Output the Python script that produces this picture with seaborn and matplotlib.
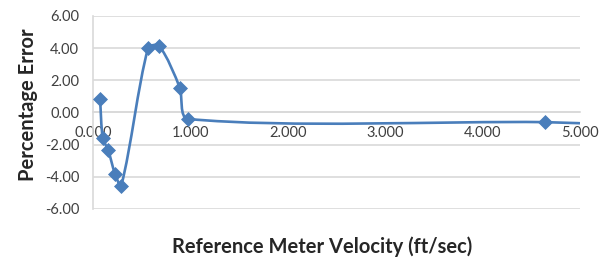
import numpy as np
import pandas as pd
import matplotlib
matplotlib.use("Agg")
import matplotlib.pyplot as plt
from matplotlib.path import Path
from matplotlib.patches import PathPatch
import seaborn as sns

# values
velocity = [0.072, 0.100, 0.155, 0.226, 0.290, 0.565, 0.680, 0.890, 0.975, 4.640, 5.300]
pct_error = [0.85, -1.60, -2.33, -3.82, -4.55, 4.00, 4.13, 1.55, -0.40, -0.60, -0.75]
x_ticks = [0, 1, 2, 3, 4, 5]
y_ticks = [-6, -4, -2, 0, 2, 4, 6]

df = pd.DataFrame({"Velocity": velocity, "Error": pct_error})

sns.set_style("white")
plt.rcParams["font.family"] = ["Lato", "DejaVu Sans"]

blue = "#4a7ebb"
grid = "#d9d9d9"
txt = "#404040"

fig = plt.figure(figsize=(6.08, 2.58), dpi=100)
ax = fig.add_axes([0.153, 0.19, 0.801, 0.748])
ax.set_xlim(0, 5)
ax.set_ylim(-6, 6)

# smoothed line, tangents worked out in screen proportions so it does not loop
sx, sy = 97.4, 16.1
pts = df[["Velocity", "Error"]].to_numpy() * [sx, sy]
n = len(pts)
tang = []
for i in range(n):
    d = pts[min(i + 1, n - 1)] - pts[max(i - 1, 0)]
    tang.append(d / np.linalg.norm(d))
verts = [tuple(pts[0])]
codes = [Path.MOVETO]
for i in range(n - 1):
    L = np.linalg.norm(pts[i + 1] - pts[i]) * 0.28
    verts += [tuple(pts[i] + tang[i] * L), tuple(pts[i + 1] - tang[i + 1] * L),
              tuple(pts[i + 1])]
    codes += [Path.CURVE4] * 3
verts = np.array(verts) / [sx, sy]
ax.add_patch(PathPatch(Path(verts, codes), fill=False, edgecolor=blue,
                       lw=1.9, zorder=3, clip_on=True))

sns.scatterplot(data=df, x="Velocity", y="Error", marker="D", s=50,
                color=blue, edgecolor=blue, zorder=4, ax=ax, clip_on=True)

ax.set_xticks(x_ticks)
ax.set_yticks(y_ticks)
ax.set_xticklabels([f"{v:.3f}" for v in x_ticks])
ax.set_yticklabels([f"{v:.2f}" for v in y_ticks])

ax.yaxis.grid(True, color=grid, lw=1.2)
ax.set_axisbelow(True)
for s in ["top", "right"]:
    ax.spines[s].set_visible(False)
ax.spines["left"].set_color(grid)
ax.spines["left"].set_linewidth(1.2)
ax.spines["bottom"].set_position(("data", 0))
ax.spines["bottom"].set_color(grid)
ax.spines["bottom"].set_linewidth(1.2)

ax.tick_params(axis="both", colors=grid, labelcolor=txt, labelsize=10.5,
               length=3, width=1)
ax.tick_params(axis="x", pad=7)
ax.tick_params(axis="y", pad=7)

ax.set_xlabel("")
ax.set_ylabel("")
fig.text(0.530, 0.043, "Reference Meter Velocity (ft/sec)", ha="center",
         va="center", fontsize=14.5, fontweight="bold", color="#262626")
fig.text(0.046, 0.595, "Percentage Error", ha="center", va="center",
         rotation=90, fontsize=14.5, fontweight="bold", color="#262626")

fig.savefig("out.png", dpi=100)
